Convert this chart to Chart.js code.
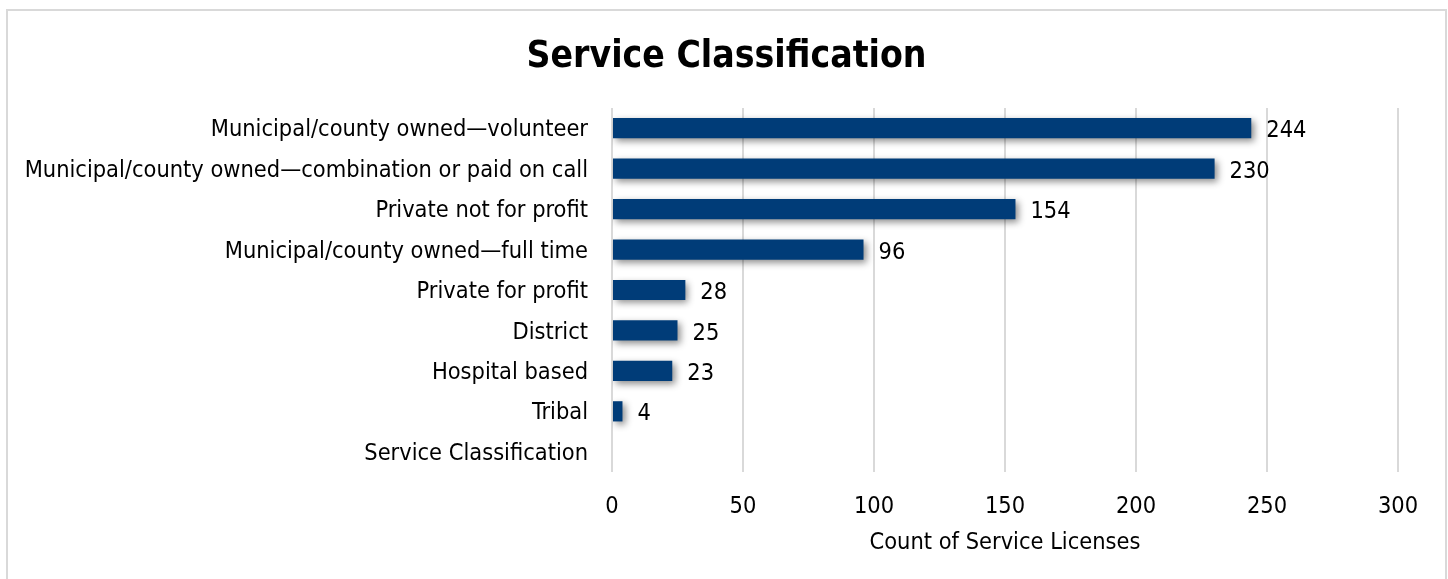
<!DOCTYPE html>
<html><head><meta charset="utf-8">
<script src="https://cdn.jsdelivr.net/npm/chart.js@4"></script>
<style>
html,body{margin:0;padding:0;background:#fff;overflow:hidden}
#frame{position:absolute;left:6px;top:9px;width:1441px;height:620px;border:2px solid #d9d9d9;box-sizing:border-box}
#wrap{position:absolute;left:0;top:0;width:1448px;height:579px}
</style></head><body>
<div id="frame"></div>
<div id="wrap"><canvas id="c" width="1448" height="579"></canvas></div>
<script>
const categories = [
  "Municipal/county owned\u2014volunteer",
  "Municipal/county owned\u2014combination or paid on call",
  "Private not for profit",
  "Municipal/county owned\u2014full time",
  "Private for profit",
  "District",
  "Hospital based",
  "Tribal",
  "Service Classification"
];
const counts = [244, 230, 154, 96, 28, 25, 23, 4, null];
const xMin = 0, xMax = 300, xStep = 50;
const chartTitle = "Service Classification";
const xTitle = "Count of Service Licenses";

const FONT = "'DejaVu Sans Condensed', 'DejaVu Sans', sans-serif";
const FS = 23.4;

const shadowPlugin = {
  id: 'barShadow',
  beforeDatasetDraw(chart) {
    const ctx = chart.ctx;
    ctx.save();
    ctx.shadowColor = 'rgba(0,0,0,0.45)';
    ctx.shadowBlur = 7;
    ctx.shadowOffsetX = 3;
    ctx.shadowOffsetY = 3;
  },
  afterDatasetDraw(chart) { chart.ctx.restore(); }
};

const labelPlugin = {
  id: 'valueLabels',
  afterDatasetsDraw(chart) {
    const ctx = chart.ctx;
    const meta = chart.getDatasetMeta(0);
    ctx.save();
    ctx.font = FS + 'px ' + FONT;
    ctx.fillStyle = '#000';
    ctx.textAlign = 'left';
    ctx.textBaseline = 'middle';
    meta.data.forEach((bar, i) => {
      const v = chart.data.datasets[0].data[i];
      if (v === null || v === undefined) return;
      ctx.fillText(String(v), bar.x + 15, bar.y + 3);
    });
    ctx.restore();
  }
};

new Chart(document.getElementById('c'), {
  type: 'bar',
  data: {
    labels: categories,
    datasets: [{
      data: counts,
      backgroundColor: '#003c78',
      borderWidth: 0,
      categoryPercentage: 1.0,
      barPercentage: 0.5
    }]
  },
  options: {
    indexAxis: 'y',
    responsive: false,
    animation: false,
    devicePixelRatio: 1,
    layout: { padding: { left: 5, right: 0, top: 0, bottom: 0 } },
    plugins: {
      legend: { display: false },
      tooltip: { enabled: false },
      title: {
        display: true,
        text: chartTitle,
        color: '#000',
        font: { family: FONT, size: 37, weight: 'bold', lineHeight: 1.2 },
        padding: { top: 35, bottom: 28.6 }
      }
    },
    scales: {
      x: {
        min: xMin, max: xMax,
        ticks: { stepSize: xStep, color: '#000', font: { family: FONT, size: FS }, padding: 21 },
        grid: { color: '#d9d9d9', lineWidth: 2, drawTicks: false },
        border: { display: false },
        title: { display: true, text: xTitle, color: '#000', font: { family: FONT, size: FS, lineHeight: 1.2 }, padding: { top: 0, bottom: 22 } },
        afterFit(s) { s.height = 107; }
      },
      y: {
        ticks: { color: '#000', font: { family: FONT, size: FS }, padding: 24, labelOffset: 2 },
        grid: { display: false, drawTicks: false },
        border: { display: false },
        afterFit(s) { s.width = 607; }
      },
      yRight: {
        axis: 'y',
        type: 'category',
        position: 'right',
        labels: categories,
        ticks: { display: false },
        grid: { display: false, drawTicks: false },
        border: { display: false },
        afterFit(s) { s.width = 50; }
      }
    }
  },
  plugins: [shadowPlugin, labelPlugin]
});
</script>
</body></html>
